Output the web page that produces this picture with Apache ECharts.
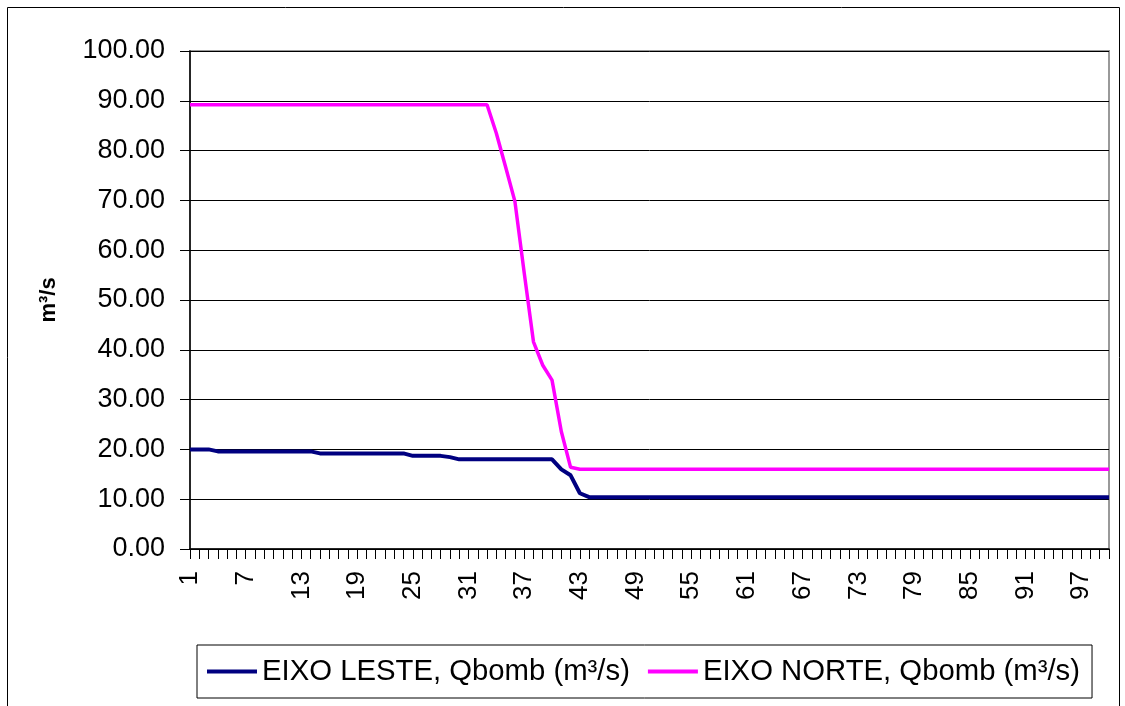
<!DOCTYPE html>
<html>
<head>
<meta charset="utf-8">
<script src="https://cdn.jsdelivr.net/npm/echarts@6/dist/echarts.min.js"></script>
<style>
html,body{margin:0;padding:0;background:#fff;}
#chart{width:1125px;height:706px;}
</style>
</head>
<body>
<div id="chart"></div>
<script>
var categories = [
  1,2,3,4,5,6,7,8,9,10,11,12,13,14,15,16,17,18,19,20,
  21,22,23,24,25,26,27,28,29,30,31,32,33,34,35,36,37,38,39,40,
  41,42,43,44,45,46,47,48,49,50,51,52,53,54,55,56,57,58,59,60,
  61,62,63,64,65,66,67,68,69,70,71,72,73,74,75,76,77,78,79,80,
  81,82,83,84,85,86,87,88,89,90,91,92,93,94,95,96,97,98,99,100
];
var seriesNames = ['EIXO LESTE, Qbomb (m³/s)', 'EIXO NORTE, Qbomb (m³/s)'];
var eixoLeste = [
  20.0,20.0,20.0,19.6,19.6,19.6,19.6,19.6,19.6,19.6,
  19.6,19.6,19.6,19.6,19.2,19.2,19.2,19.2,19.2,19.2,
  19.2,19.2,19.2,19.2,18.7,18.7,18.7,18.7,18.45,18.0,
  18.0,18.0,18.0,18.0,18.0,18.0,18.0,18.0,18.0,18.0,
  16.0,14.8,11.2,10.4,10.4,10.4,10.4,10.4,10.4,10.4,
  10.4,10.4,10.4,10.4,10.4,10.4,10.4,10.4,10.4,10.4,
  10.4,10.4,10.4,10.4,10.4,10.4,10.4,10.4,10.4,10.4,
  10.4,10.4,10.4,10.4,10.4,10.4,10.4,10.4,10.4,10.4,
  10.4,10.4,10.4,10.4,10.4,10.4,10.4,10.4,10.4,10.4,
  10.4,10.4,10.4,10.4,10.4,10.4,10.4,10.4,10.4,10.4
];
var eixoNorte = [
  89.2,89.2,89.2,89.2,89.2,89.2,89.2,89.2,89.2,89.2,
  89.2,89.2,89.2,89.2,89.2,89.2,89.2,89.2,89.2,89.2,
  89.2,89.2,89.2,89.2,89.2,89.2,89.2,89.2,89.2,89.2,
  89.2,89.2,89.2,83.5,76.7,69.8,55.5,41.6,36.9,33.9,
  23.6,16.4,16.0,16.0,16.0,16.0,16.0,16.0,16.0,16.0,
  16.0,16.0,16.0,16.0,16.0,16.0,16.0,16.0,16.0,16.0,
  16.0,16.0,16.0,16.0,16.0,16.0,16.0,16.0,16.0,16.0,
  16.0,16.0,16.0,16.0,16.0,16.0,16.0,16.0,16.0,16.0,
  16.0,16.0,16.0,16.0,16.0,16.0,16.0,16.0,16.0,16.0,
  16.0,16.0,16.0,16.0,16.0,16.0,16.0,16.0,16.0,16.0
];
var yAxisName = 'm³/s';

var FONT = '"Liberation Sans", Arial, sans-serif';
var chart = echarts.init(document.getElementById('chart'), null, {renderer: 'canvas'});
chart.setOption({
  animation: false,
  backgroundColor: '#ffffff',
  graphic: [{
    type: 'rect',
    shape: {x: 7.5, y: 7.5, width: 1112, height: 720},
    style: {fill: 'none', stroke: '#000', lineWidth: 1},
    silent: true, z: -1
  }],
  grid: {
    left: 190, right: 16, top: 51, bottom: 157,
    show: true, borderColor: '#999', borderWidth: 2, backgroundColor: 'transparent'
  },
  legend: {
    left: 197, top: 645,
    data: seriesNames,
    orient: 'horizontal',
    itemWidth: 50, itemHeight: 4, itemGap: 18,
    padding: [12, 12, 12, 10],
    borderColor: '#000', borderWidth: 1,
    icon: 'rect',
    textStyle: {fontFamily: FONT, fontSize: 29.3, color: '#000', padding: [0, 0, 0, 0]}
  },
  xAxis: {
    type: 'category',
    data: categories,
    boundaryGap: false,
    axisLine: {show: true, lineStyle: {color: '#000', width: 1.5}},
    axisTick: {show: true, interval: 0, length: 10, inside: false, lineStyle: {color: '#000', width: 1}},
    axisLabel: {
      interval: 5, rotate: 90, margin: 22,
      fontFamily: FONT, fontSize: 26, color: '#000'
    },
    splitLine: {show: false}
  },
  yAxis: {
    type: 'value',
    min: 0, max: 100, interval: 10,
    name: yAxisName,
    nameLocation: 'middle',
    nameRotate: 90,
    nameGap: 130,
    nameTextStyle: {fontFamily: FONT, fontSize: 22, fontWeight: 'bold', color: '#000'},
    axisLine: {show: true, lineStyle: {color: '#000', width: 1.5}},
    axisTick: {show: true, length: 10, inside: false, lineStyle: {color: '#000', width: 1}},
    axisLabel: {
      margin: 25, fontFamily: FONT, fontSize: 27, color: '#000',
      formatter: function (v) { return v.toFixed(2); }
    },
    splitLine: {show: true, lineStyle: {color: '#000', width: 1}}
  },
  series: [
    {
      name: seriesNames[0], type: 'line', data: eixoLeste,
      symbol: 'none', lineStyle: {color: '#000080', width: 4}, itemStyle: {color: '#000080'},
      z: 3
    },
    {
      name: seriesNames[1], type: 'line', data: eixoNorte,
      symbol: 'none', lineStyle: {color: '#ff00ff', width: 3.5}, itemStyle: {color: '#ff00ff'},
      z: 4
    }
  ]
});
</script>
</body>
</html>
